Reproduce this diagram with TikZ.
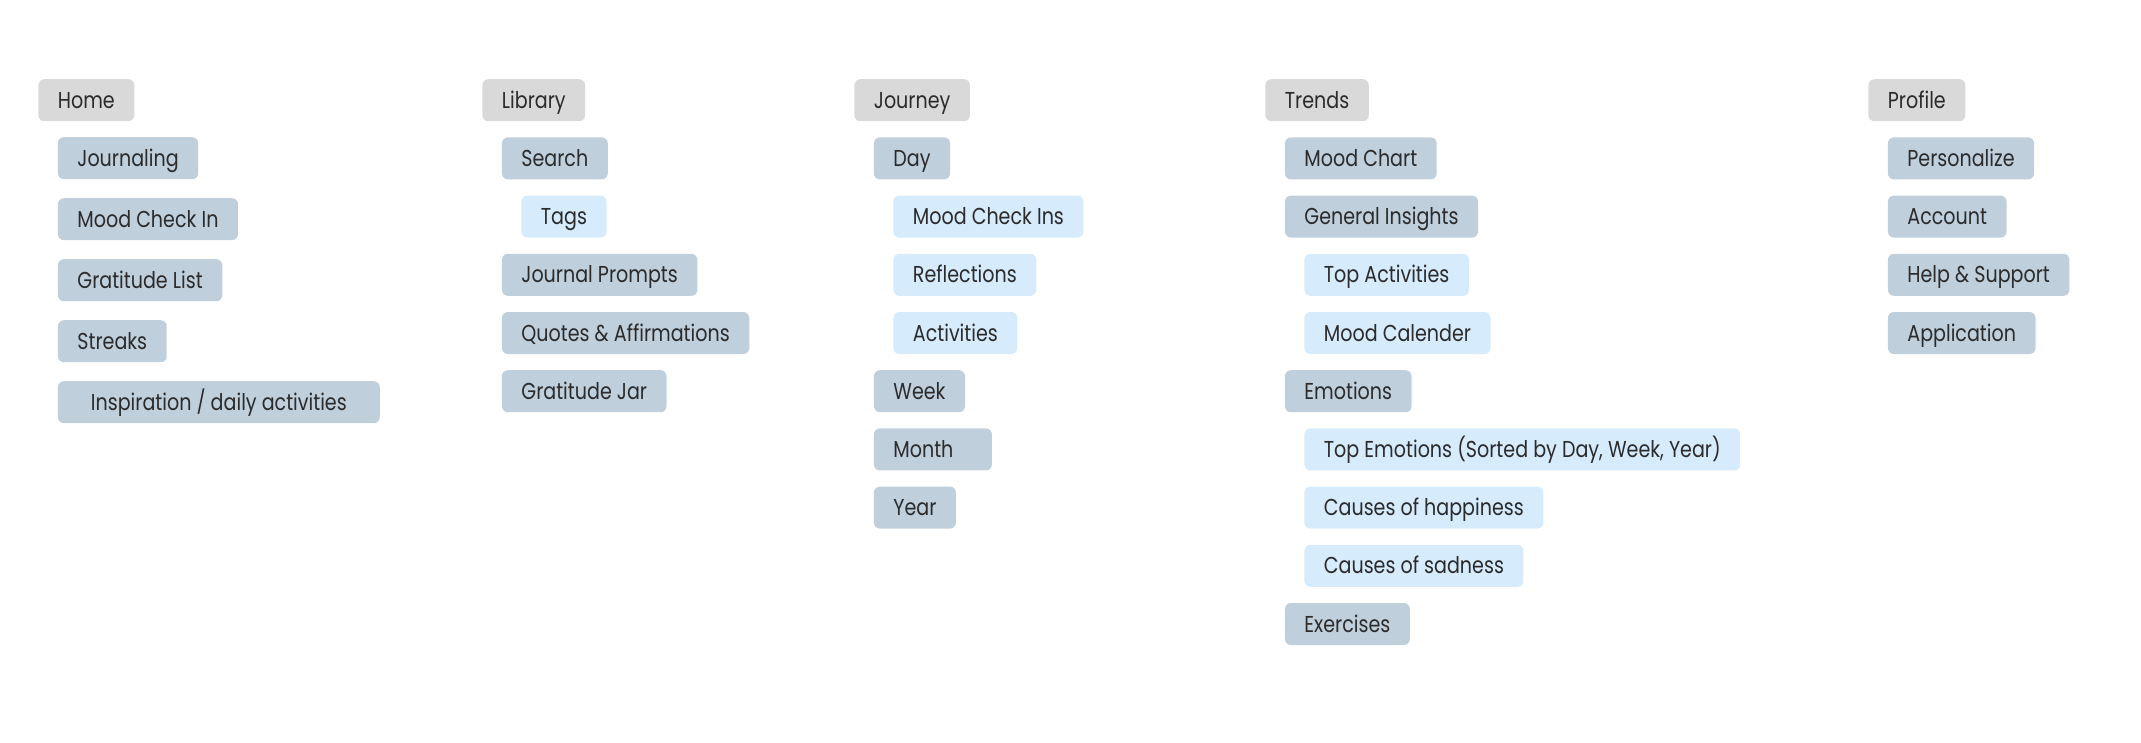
\documentclass[tikz,border=0pt]{standalone}
\usepackage{fontspec}
\setmainfont[FakeStretch=0.83]{Poppins}
\usetikzlibrary{matrix}

\definecolor{headgray}{HTML}{D9D9D9}
\definecolor{pagegray}{HTML}{BFCFDC}
\definecolor{subblue}{HTML}{D6EBFC}
\definecolor{labelink}{HTML}{2B2B2B}

\tikzset{
  menu/.style={rounded corners=6pt, inner xsep=19.5pt, inner ysep=0pt,
    minimum height=42pt, text height=16pt, text depth=0pt,
    text=labelink, font=\fontsize{23}{23}\selectfont, anchor=west},
  head/.style={menu, fill=headgray},
  page/.style={menu, fill=pagegray},
  subpage/.style={menu, fill=subblue},
  column/.style={matrix of nodes, inner sep=0pt, anchor=north west,
    column sep={19.5pt,between origins}, row sep={58.2pt,between origins}}
}

\begin{document}
\begin{tikzpicture}[x=1pt,y=1pt]
\useasboundingbox (0,0) rectangle (2141,-743);
\matrix [column, row sep={61pt,between origins}] (homecol) at (38,-79)
{
|[head](home)| Home & \\[-3pt]
 & |[page](journaling)| Journaling \\
 & |[page](moodcheckin)| Mood Check In \\
 & |[page](gratlist)| Gratitude List \\
 & |[page](streaks)| Streaks \\
 & |[page, inner xsep=33pt](inspiration)| Inspiration / daily activities \\
};
\matrix [column] (librarycol) at (482,-79)
{
|[head](library)| Library & & \\
 & |[page](search)| Search & \\
 & & |[subpage](tags)| Tags \\
 & |[page](prompts)| Journal Prompts & \\
 & |[page](quotes)| Quotes \& Affirmations & \\
 & |[page](gratjar)| Gratitude Jar & \\
};
\matrix [column] (journeycol) at (854,-79)
{
|[head](journey)| Journey & & \\
 & |[page](day)| Day & \\
 & & |[subpage](checkins)| Mood Check Ins \\
 & & |[subpage](reflections)| Reflections \\
 & & |[subpage](activities)| Activities \\
 & |[page](week)| Week & \\
 & |[page, text width=79pt](month)| Month & \\
 & |[page](year)| Year & \\
};
\matrix [column] (trendscol) at (1265,-79)
{
|[head](trends)| Trends & & \\
 & |[page](moodchart)| Mood Chart & \\
 & |[page](insights)| General Insights & \\
 & & |[subpage](topact)| Top Activities \\
 & & |[subpage](calender)| Mood Calender \\
 & |[page](emotions)| Emotions & \\
 & & |[subpage](topemo)| Top Emotions (Sorted by Day, Week, Year) \\
 & & |[subpage](happy)| Causes of happiness \\
 & & |[subpage](sad)| Causes of sadness \\
 & |[page](exercises)| Exercises & \\
};
\matrix [column] (profilecol) at (1868,-79)
{
|[head](profile)| Profile & \\
 & |[page](personalize)| Personalize \\
 & |[page](account)| Account \\
 & |[page](help)| Help \& Support \\
 & |[page](application)| Application \\
};
\end{tikzpicture}
\end{document}
